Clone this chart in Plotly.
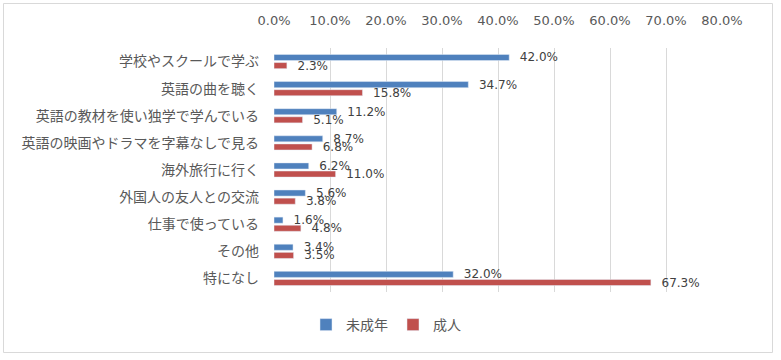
import plotly.graph_objects as go

categories = ["学校やスクールで学ぶ", "英語の曲を聴く", "英語の教材を使い独学で学んでいる",
              "英語の映画やドラマを字幕なしで見る", "海外旅行に行く", "外国人の友人との交流",
              "仕事で使っている", "その他", "特になし"]
minors = [0.420, 0.347, 0.112, 0.087, 0.062, 0.056, 0.016, 0.034, 0.320]
adults = [0.023, 0.158, 0.051, 0.068, 0.110, 0.038, 0.048, 0.035, 0.673]
tick_vals = [0, 0.1, 0.2, 0.3, 0.4, 0.5, 0.6, 0.7, 0.8]

W, H = 781, 360
L, R, T, B = 274, 59, 48, 68
pw, ph = W - L - R, H - T - B

def px_x(x):
    return (x - L) / pw

def px_y(y):
    return 1 - (y - T) / ph

font = "'DejaVu Sans', 'Noto Sans CJK JP', sans-serif"
txtcol = "#595959"
pad = "\u00a0\u00a0"

fig = go.Figure()
fig.add_trace(go.Bar(y=categories, x=minors, name="未成年", orientation="h",
                     marker_color="#4F81BD", text=[f"{pad}{v*100:.1f}%" for v in minors],
                     textposition="outside", cliponaxis=False, constraintext="none",
                     textfont=dict(color="#404040", size=12)))
fig.add_trace(go.Bar(y=categories, x=adults, name="成人", orientation="h",
                     marker_color="#C0504D", text=[f"{pad}{v*100:.1f}%" for v in adults],
                     textposition="outside", cliponaxis=False, constraintext="none",
                     textfont=dict(color="#404040", size=12)))

fig.update_layout(
    width=W, height=H,
    margin=dict(l=L, r=R, t=T, b=B, autoexpand=False),
    barmode="group", bargap=0.4, bargroupgap=0.25,
    paper_bgcolor="white", plot_bgcolor="white",
    font=dict(family=font, size=13, color=txtcol),
    xaxis=dict(side="top", range=[0, 0.8], tickvals=tick_vals, tickformat=".1%",
               showgrid=True, gridcolor="#D9D9D9", gridwidth=1, zeroline=False,
               showline=False, ticks="", tickfont=dict(size=13, color=txtcol),
               automargin=False, ticklabelstandoff=19),
    yaxis=dict(autorange="reversed", showgrid=False, ticks="", showline=False,
               tickfont=dict(size=14, color=txtcol), automargin=False,
               ticklabelstandoff=14),
    legend=dict(orientation="h", x=px_x(386), xanchor="center", y=px_y(325), yanchor="middle",
                font=dict(size=14, color=txtcol), traceorder="normal"),
    showlegend=True,
)
fig.add_shape(type="rect", xref="paper", yref="paper",
              x0=px_x(3.5), x1=px_x(772.5), y0=px_y(352.5), y1=px_y(3.5),
              line=dict(color="#D9D9D9", width=1), layer="below")
fig.write_html("out.html", config={"displayModeBar": False},
               post_script="document.body.style.margin='0';document.body.style.padding='0';")
